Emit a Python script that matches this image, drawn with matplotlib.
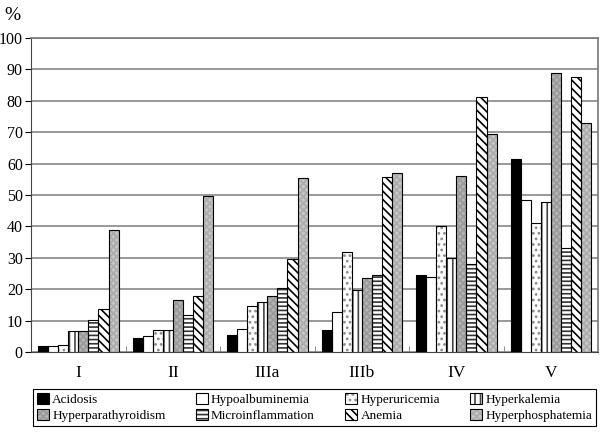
import matplotlib
matplotlib.use("Agg")
import matplotlib.pyplot as plt
import numpy as np

plt.rcParams['font.family'] = ['Liberation Serif', 'DejaVu Serif']
plt.rcParams['hatch.linewidth'] = 1.2

stages = ["I", "II", "IIIa", "IIIb", "IV", "V"]
series = ["Acidosis", "Hypoalbuminemia", "Hyperuricemia", "Hyperkalemia",
          "Hyperparathyroidism", "Microinflammation", "Anemia", "Hyperphosphatemia"]

acidosis = [2.0, 4.5, 5.3, 6.9, 24.6, 61.5]
hypoalbuminemia = [2.0, 5.0, 7.2, 12.8, 23.8, 48.4]
hyperuricemia = [2.3, 7.0, 14.7, 32.0, 40.3, 41.0]
hyperkalemia = [6.6, 7.1, 16.0, 19.9, 30.0, 47.8]
hyperparathyroidism = [6.6, 16.7, 18.0, 23.6, 56.1, 89.0]
microinflammation = [10.3, 11.9, 20.5, 24.4, 28.2, 33.0]
anemia = [13.7, 18.0, 29.5, 55.8, 81.1, 87.5]
hyperphosphatemia = [38.8, 49.6, 55.3, 56.9, 69.3, 73.0]

values = [acidosis, hypoalbuminemia, hyperuricemia, hyperkalemia,
          hyperparathyroidism, microinflammation, anemia, hyperphosphatemia]

# (facecolor, hatch, hatch colour) per series
styles = [("black", None, "black"),
          ("white", None, "black"),
          ("white", "...", "#8c8c8c"),
          ("white", "|||", "#444444"),
          ("#b4b4b4", "xxxxx", "#9a9a9a"),
          ("white", "----", "#333333"),
          ("white", "\\\\\\\\", "black"),
          ("#c6c6c6", "xxxxx", "#acacac")]

fig = plt.figure(figsize=(6, 4.32), dpi=100)
ax = fig.add_axes([0.052, 0.185, 0.945, 0.727])

x = np.arange(len(stages))
w = 0.106
handles = []
for i, (name, vals) in enumerate(zip(series, values)):
    fc, hatch, hc = styles[i]
    pos = x + (i - 3.5) * w
    fill = ax.bar(pos, vals, w, facecolor=fc, hatch=hatch, edgecolor=hc,
                  linewidth=0, zorder=3)
    outline = ax.bar(pos, vals, w, fill=False, edgecolor="black",
                     linewidth=0.8, zorder=4)
    handles.append((fill, outline))

ax.set_xlim(-0.5, len(stages) - 0.5)
ax.set_ylim(0, 100)
ax.set_yticks(np.arange(0, 101, 10))
ax.yaxis.grid(True, color="#888888", linewidth=1.2, zorder=0)
ax.tick_params(axis="y", direction="out", length=4, labelsize=11.5, pad=2)
ax.set_xticks(x)
ax.set_xticklabels(stages)
ax.tick_params(axis="x", length=0, labelsize=12.5, pad=9)
ax.set_xticks(np.arange(0.5, len(stages) - 0.5, 1), minor=True)
ax.tick_params(axis="x", which="minor", direction="in", length=4, color="#777777")

for s in ["top", "right"]:
    ax.spines[s].set_color("#777777")
    ax.spines[s].set_linewidth(1.2)
ax.spines["left"].set_color("#444444")
ax.spines["bottom"].set_color("#444444")

fig.text(0.008, 0.965, "%", fontsize=14, va="center", ha="left")

# legend fills column by column, so reorder to read row by row
order = [0, 4, 1, 5, 2, 6, 3, 7]
leg = fig.legend([handles[k] for k in order], [series[k] for k in order],
                 loc="lower left", ncol=4, mode="expand",
                 bbox_to_anchor=(0.053, 0.01, 0.943, 0.103), fontsize=9.5,
                 handlelength=0.9, handleheight=0.9, handletextpad=0.25,
                 borderpad=0.3, borderaxespad=0.1, labelspacing=0.25,
                 fancybox=False, edgecolor="black", framealpha=1)
leg.get_frame().set_linewidth(0.8)

fig.savefig("out.png", dpi=100)
